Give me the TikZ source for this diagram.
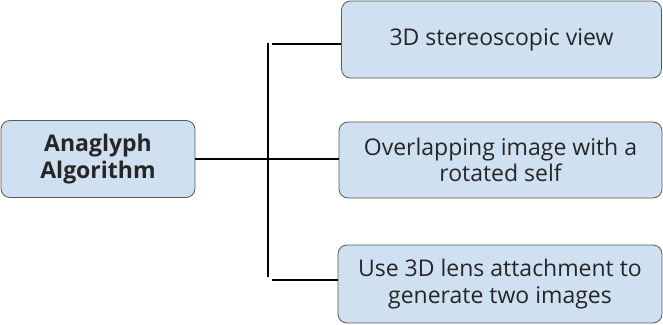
\documentclass[tikz,border=0pt]{standalone}
\usepackage{fontspec}
\setmainfont{Open Sans}
\begin{document}
\begin{tikzpicture}[x=1pt,y=-1pt,
  box/.style={draw=black!65, fill=boxblue, rounded corners=9pt, line width=0.8pt, align=center, inner sep=0pt, font=\fontsize{23}{26.5}\selectfont, text=black!85},
  link/.style={line width=2.6pt, black}]
\definecolor{boxblue}{HTML}{CFE0F1}
\useasboundingbox (0,0) rectangle (663,324);
\node[box, minimum width=194pt, minimum height=77pt, font=\fontsize{23}{27.5}\selectfont\bfseries] (root) at (98,159) {Anaglyph\\Algorithm};
\node[box, minimum width=320pt, minimum height=77pt] (a) at (501.5,39.5) {3D stereoscopic view};
\node[box, minimum width=323pt, minimum height=76pt] (b) at (500.5,160) {Overlapping image with a\\rotated self};
\node[box, minimum width=324pt, minimum height=78pt] (c) at (500,284) {Use 3D lens attachment to\\generate two images};
\coordinate (t1) at (268,43);
\coordinate (t2) at (268,277);
\draw[link] (t1) -- (t2);
\draw[link] (root.east |- 0,159) -- (b.west |- 0,159);
\draw[link] (272,44) -- (a.west |- 0,44);
\draw[link] (272,280) -- (c.west |- 0,280);
\end{tikzpicture}
\end{document}
